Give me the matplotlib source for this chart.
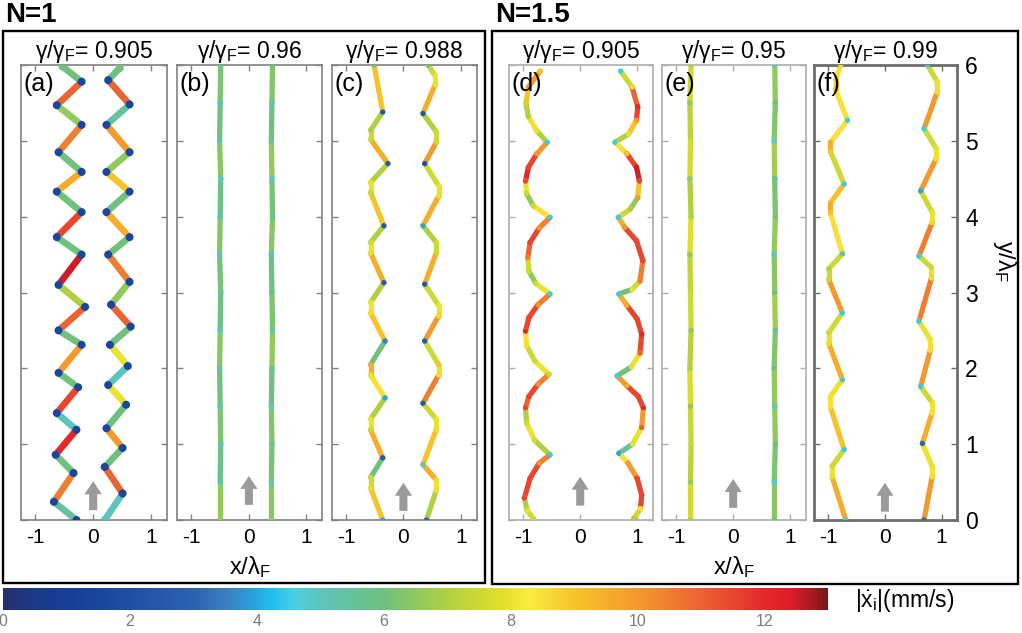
import numpy as np
import matplotlib
matplotlib.use("Agg")
import matplotlib.pyplot as plt
from matplotlib.collections import LineCollection
from matplotlib.colors import LinearSegmentedColormap, Normalize
from matplotlib.patches import Rectangle
import matplotlib.cm as cm

plt.rcParams['font.family'] = ['Liberation Sans', 'DejaVu Sans']
plt.rcParams['mathtext.fontset'] = 'custom'
plt.rcParams['mathtext.rm'] = 'Liberation Sans'
plt.rcParams['mathtext.it'] = 'Liberation Sans:italic'
plt.rcParams['mathtext.bf'] = 'Liberation Sans:bold'

# trajectories: (x/lambda_F, y/lambda_F, speed at that point in mm/s), plus speed of each segment
a_left = [(-0.53, 5.98, 6.0), (-0.20, 5.78, 1.5), (-0.63, 5.47, 1.5), (-0.20, 5.21, 1.5), (-0.60, 4.85, 1.5),
          (-0.20, 4.59, 1.5), (-0.63, 4.33, 1.5), (-0.20, 4.06, 1.5), (-0.63, 3.73, 1.5), (-0.20, 3.50, 1.5),
          (-0.60, 3.10, 1.5), (-0.14, 2.81, 1.5), (-0.60, 2.50, 1.5), (-0.20, 2.31, 1.5), (-0.60, 1.94, 1.5),
          (-0.26, 1.75, 1.5), (-0.63, 1.41, 1.5), (-0.29, 1.19, 1.5), (-0.65, 0.86, 1.5), (-0.34, 0.62, 1.5),
          (-0.68, 0.24, 1.5), (-0.29, 0.00, 1.5)]
a_left_seg = [6.0, 11.0, 6.5, 10.5, 6.0, 9.5, 6.0, 11.5, 6.0, 12.5, 7.0, 11.0, 6.0, 10.0, 6.0, 11.5, 5.0, 12.0, 6.0, 10.5, 5.5]

a_right = [(0.46, 5.96, 6.0), (0.26, 5.80, 1.5), (0.63, 5.48, 1.5), (0.23, 5.21, 1.5), (0.63, 4.85, 1.5),
           (0.23, 4.59, 1.5), (0.63, 4.33, 1.5), (0.23, 4.06, 1.5), (0.63, 3.73, 1.5), (0.26, 3.50, 1.5),
           (0.63, 3.14, 1.5), (0.31, 2.84, 1.5), (0.65, 2.55, 1.5), (0.29, 2.31, 1.5), (0.60, 2.03, 1.5),
           (0.26, 1.78, 1.5), (0.57, 1.52, 1.5), (0.23, 1.21, 1.5), (0.51, 0.95, 1.5), (0.20, 0.70, 1.5),
           (0.51, 0.35, 1.5), (0.20, 0.00, 5.0)]
a_right_seg = [6.0, 11.0, 5.5, 10.0, 6.5, 9.0, 6.0, 9.5, 6.0, 10.5, 6.5, 11.0, 6.0, 8.0, 5.0, 8.0, 6.0, 10.0, 6.0, 11.0, 5.0]

b_left = [(-0.49, 6.0, 5.5), (-0.50, 5.5, 5.0), (-0.51, 5.0, 5.2), (-0.49, 4.5, 4.8), (-0.50, 4.0, 5.3),
          (-0.51, 3.5, 5.0), (-0.49, 3.0, 5.5), (-0.50, 2.5, 4.9), (-0.51, 2.0, 5.2), (-0.50, 1.5, 5.0),
          (-0.49, 1.0, 5.4), (-0.50, 0.5, 5.0), (-0.50, 0.0, 6.5)]
b_left_seg = [6.2, 6.0, 6.4, 5.8, 6.3, 6.1, 5.9, 6.4, 6.0, 6.2, 5.8, 6.5]

b_right = [(0.41, 6.0, 6.0), (0.40, 5.5, 5.0), (0.39, 5.0, 5.5), (0.40, 4.5, 4.8), (0.41, 4.0, 5.5),
           (0.39, 3.5, 5.0), (0.40, 3.0, 6.0), (0.41, 2.5, 5.0), (0.40, 2.0, 5.5), (0.39, 1.5, 4.8),
           (0.40, 1.0, 5.5), (0.39, 0.5, 5.0), (0.39, 0.0, 6.5)]
b_right_seg = [6.3, 6.0, 6.5, 6.1, 6.4, 5.9, 6.2, 6.6, 6.0, 6.3, 6.1, 6.4]

c_left = [(-0.51, 6.00, 6.0), (-0.36, 5.38, 2.5), (-0.57, 5.14, 7.0), (-0.57, 5.02, 7.5), (-0.27, 4.70, 2.5),
          (-0.57, 4.45, 8.0), (-0.57, 4.32, 7.5), (-0.34, 3.88, 2.5), (-0.57, 3.66, 7.5), (-0.57, 3.52, 8.0),
          (-0.34, 3.13, 2.5), (-0.57, 2.87, 8.0), (-0.57, 2.73, 8.5), (-0.32, 2.36, 3.5), (-0.57, 2.05, 9.5),
          (-0.57, 1.91, 8.0), (-0.32, 1.61, 4.0), (-0.57, 1.33, 8.0), (-0.57, 1.19, 7.5), (-0.36, 0.82, 2.5),
          (-0.57, 0.56, 7.5), (-0.57, 0.42, 8.0), (-0.36, 0.00, 4.0)]
c_left_seg = [9.0, 7.0, 7.5, 9.5, 7.0, 8.0, 9.0, 7.0, 8.0, 9.5, 7.0, 8.5, 9.0, 6.0, 9.5, 8.5,
              7.0, 8.0, 9.5, 6.0, 7.5, 9.0]

c_right = [(0.43, 6.00, 6.0), (0.55, 5.86, 8.0), (0.55, 5.74, 8.0), (0.34, 5.36, 2.5), (0.57, 5.12, 7.5),
           (0.57, 4.98, 7.5), (0.37, 4.70, 2.0), (0.61, 4.41, 8.0), (0.61, 4.27, 8.0), (0.34, 3.88, 4.0),
           (0.57, 3.66, 7.5), (0.57, 3.52, 7.5), (0.37, 3.11, 2.5), (0.61, 2.83, 8.0), (0.61, 2.69, 8.0),
           (0.37, 2.36, 2.5), (0.61, 2.05, 9.0), (0.61, 1.91, 8.5), (0.34, 1.54, 2.5), (0.57, 1.33, 8.0),
           (0.57, 1.19, 8.0), (0.34, 0.73, 5.0), (0.57, 0.53, 8.0), (0.57, 0.39, 8.0), (0.40, 0.00, 3.0)]
c_right_seg = [7.5, 8.0, 9.5, 7.0, 7.5, 10.0, 7.5, 8.0, 9.5, 7.0, 7.5, 9.5, 7.5, 8.0, 10.0, 7.5,
               8.0, 10.5, 7.5, 8.0, 9.0, 9.5, 8.5, 7.0]

d_left = [(-0.70, 5.92, 9.0), (-0.91, 5.71, 10.0), (-0.95, 5.49, 7.5), (-0.91, 5.32, 7.0), (-0.76, 5.13, 8.0),
          (-0.58, 4.98, 4.5), (-0.76, 4.83, 10.0), (-0.91, 4.65, 11.5), (-0.96, 4.47, 11.5), (-0.94, 4.30, 7.5),
          (-0.82, 4.14, 7.5), (-0.53, 3.99, 4.5), (-0.72, 3.85, 10.0), (-0.88, 3.66, 11.5), (-0.92, 3.46, 10.5),
          (-0.90, 3.28, 7.5), (-0.78, 3.12, 7.5), (-0.53, 2.98, 4.5), (-0.74, 2.84, 10.0), (-0.90, 2.67, 11.5),
          (-0.96, 2.49, 12.0), (-0.94, 2.30, 8.0), (-0.80, 2.10, 7.5), (-0.55, 1.92, 7.5), (-0.74, 1.79, 10.0),
          (-0.90, 1.63, 11.5), (-0.96, 1.48, 11.5), (-0.94, 1.28, 7.5), (-0.80, 1.05, 7.5), (-0.53, 0.86, 4.5),
          (-0.72, 0.75, 10.0), (-0.88, 0.55, 11.5), (-0.98, 0.29, 11.5), (-0.93, 0.12, 8.0), (-0.82, 0.02, 7.5)]
d_left_seg = [10.0, 9.0, 7.0, 8.5, 7.0,
              10.0, 11.5, 12.0, 8.0, 6.5, 8.5,
              10.5, 11.5, 11.0, 7.5, 6.5, 8.0,
              10.5, 11.5, 11.5, 8.5, 7.5, 8.0,
              10.5, 11.5, 11.0, 7.0, 8.0, 7.0,
              10.5, 11.5, 11.5, 7.0, 7.5]

d_right = [(0.71, 5.92, 4.5), (0.91, 5.71, 8.5), (1.01, 5.45, 12.0), (0.99, 5.27, 10.0), (0.85, 5.09, 8.0),
           (0.61, 4.98, 4.5), (0.82, 4.83, 9.0), (0.99, 4.65, 12.5), (1.04, 4.47, 11.5), (1.01, 4.25, 10.0),
           (0.88, 4.10, 7.0), (0.67, 3.99, 4.5), (0.78, 3.86, 10.0), (0.99, 3.68, 11.5), (1.10, 3.42, 11.5),
           (1.05, 3.15, 10.5), (0.91, 3.04, 8.0), (0.68, 2.98, 4.5), (0.82, 2.83, 9.5), (1.00, 2.65, 11.5),
           (1.08, 2.45, 12.0), (1.05, 2.20, 11.0), (0.90, 2.02, 8.0), (0.65, 1.90, 4.5), (0.82, 1.77, 9.5),
           (1.02, 1.63, 11.5), (1.11, 1.48, 12.0), (1.08, 1.22, 11.0), (0.92, 1.00, 8.0), (0.68, 0.88, 4.0),
           (0.84, 0.75, 10.0), (1.00, 0.55, 11.5), (1.08, 0.33, 11.5), (1.06, 0.15, 8.5), (0.94, 0.02, 7.0)]
d_right_seg = [7.5, 11.0, 11.5, 9.0, 7.0,
               8.5, 11.5, 12.5, 9.0, 6.5, 7.5,
               9.5, 11.5, 11.5, 10.5, 7.5, 6.0,
               9.5, 11.5, 11.5, 11.5, 8.0, 6.0,
               10.0, 11.5, 11.5, 10.0, 8.0, 5.5,
               8.5, 10.0, 11.5, 11.5, 7.5]

e_left = [(-0.74, 6.0, 7.0), (-0.76, 5.5, 6.5), (-0.75, 5.0, 7.5), (-0.76, 4.5, 6.5), (-0.74, 4.0, 7.0),
          (-0.76, 3.5, 6.5), (-0.75, 3.0, 7.5), (-0.74, 2.5, 6.5), (-0.76, 2.0, 7.0), (-0.75, 1.5, 6.5),
          (-0.74, 1.0, 7.5), (-0.75, 0.5, 6.5), (-0.75, 0.0, 7.0)]
e_left_seg = [7.5, 7.2, 7.6, 7.0, 7.8, 7.3, 7.5, 7.1, 7.7, 7.4, 7.2, 7.6]

e_right = [(0.73, 6.0, 5.0), (0.74, 5.5, 6.0), (0.72, 5.0, 4.8), (0.73, 4.5, 5.5), (0.74, 4.0, 6.0),
           (0.72, 3.5, 5.0), (0.73, 3.0, 6.0), (0.74, 2.5, 5.5), (0.72, 2.0, 6.0), (0.73, 1.5, 5.0),
           (0.74, 1.0, 6.0), (0.72, 0.5, 4.8), (0.72, 0.0, 6.0)]
e_right_seg = [6.5, 6.3, 6.8, 6.2, 6.6, 6.4, 6.8, 6.3, 6.6, 6.5, 6.2, 6.4]

f_left = [(-0.78, 6.00, 8.0), (-0.87, 5.80, 8.5), (-0.87, 5.68, 9.0), (-0.66, 5.27, 4.5), (-0.96, 4.98, 9.5),
          (-0.96, 4.86, 9.0), (-0.72, 4.43, 4.5), (-0.96, 4.18, 9.5), (-0.96, 4.05, 9.0), (-0.75, 3.51, 5.5),
          (-0.99, 3.31, 7.0), (-0.99, 3.17, 7.5), (-0.75, 2.73, 4.5), (-0.99, 2.47, 7.5), (-0.99, 2.33, 8.0),
          (-0.75, 1.85, 5.0), (-0.96, 1.63, 8.5), (-0.96, 1.49, 8.5), (-0.72, 0.93, 4.5), (-0.93, 0.71, 7.5),
          (-0.93, 0.57, 8.0), (-0.69, 0.00, 4.5)]
f_left_seg = [8.5, 9.0, 8.5, 8.5, 9.5, 7.5, 9.0, 9.5, 8.5, 7.5, 7.5, 10.0, 7.5, 8.0, 9.5, 8.0,
              8.5, 9.0, 7.5, 8.0, 9.5]

f_right = [(0.75, 6.00, 4.5), (0.92, 5.78, 8.0), (0.92, 5.64, 8.0), (0.69, 5.16, 4.5), (0.90, 4.90, 8.0),
           (0.90, 4.76, 8.0), (0.63, 4.34, 4.0), (0.83, 4.06, 8.0), (0.83, 3.92, 8.0), (0.60, 3.48, 4.5),
           (0.82, 3.33, 7.5), (0.82, 3.19, 8.0), (0.60, 2.62, 4.5), (0.80, 2.38, 8.0), (0.80, 2.24, 8.5),
           (0.63, 1.76, 4.5), (0.83, 1.55, 8.0), (0.83, 1.41, 8.5), (0.66, 1.01, 3.0), (0.83, 0.71, 8.0),
           (0.83, 0.57, 8.5), (0.69, 0.00, 3.0)]
f_right_seg = [7.5, 8.0, 10.0, 7.5, 8.0, 10.0, 7.5, 8.0, 10.5, 7.5, 8.0, 10.5, 8.0, 8.5, 10.0, 7.5,
               8.5, 9.5, 8.0, 8.5, 10.0]

panel_names = ['(a)', '(b)', '(c)', '(d)', '(e)', '(f)']
gamma_ratio = ['0.905', '0.96', '0.988', '0.905', '0.95', '0.99']
tracks = [(a_left, a_left_seg, a_right, a_right_seg),
          (b_left, b_left_seg, b_right, b_right_seg),
          (c_left, c_left_seg, c_right, c_right_seg),
          (d_left, d_left_seg, d_right, d_right_seg),
          (e_left, e_left_seg, e_right, e_right_seg),
          (f_left, f_left_seg, f_right, f_right_seg)]
cbar_ticks = [0, 2, 4, 6, 8, 10, 12]

# colour scale, roughly the one in the figure
cb_pos = [0, 0.5, 1, 2, 3, 3.5, 3.9, 4.25, 4.6, 5, 6, 7, 7.9, 8.3, 9, 10, 11, 12, 12.4, 12.8, 13]
cb_hex = ['#2a2e6e', '#1b3989', '#163e98', '#1f4fa3', '#2c62b0', '#3a7fc2', '#2aa0da', '#1fc2ee', '#4ccfe0',
          '#5cc4bc', '#6ec17e', '#b0d040', '#e4e02a', '#f8ec40', '#f6c42a', '#f39a2e', '#ec6432', '#e42a2a',
          '#e01e28', '#a31a20', '#7a1418']
cmap = LinearSegmentedColormap.from_list('speed', list(zip(np.array(cb_pos) / 13.0, cb_hex)))
norm = Normalize(0, 13)

W, H = 1022, 633
fig = plt.figure(figsize=(W / 100, H / 100), dpi=100)

# panel boxes in pixels: left, width
px_left = [21, 177, 331.5, 509, 662, 814]
px_width = [145.5, 145, 145, 143.5, 143.5, 143]
spine_col = ['#808080', '#808080', '#808080', '#adadad', '#adadad', '#6e6e6e']
spine_w = [1.2, 1.2, 1.2, 1.2, 1.2, 2.0]
arrow_y = [(0.13, 0.51), (0.20, 0.58), (0.12, 0.49), (0.19, 0.57), (0.16, 0.54), (0.11, 0.49)]


def draw_track(ax, pts, seg_v, lw, ms):
    xy = np.array([(p[0], p[1]) for p in pts])
    v = np.array([p[2] for p in pts])
    segs = np.stack([xy[:-1], xy[1:]], axis=1)
    lc = LineCollection(segs, cmap=cmap, norm=norm, linewidths=lw, capstyle='round', zorder=2)
    lc.set_array(np.array(seg_v))
    ax.add_collection(lc)
    ax.scatter(xy[:, 0], xy[:, 1], c=v, cmap=cmap, norm=norm, s=ms, linewidths=0, zorder=3)


for i in range(6):
    ax = fig.add_axes([px_left[i] / W, 1 - 520 / H, px_width[i] / W, 455 / H])
    left, lseg, right, rseg = tracks[i]
    lw = 4.8 if i == 0 else 3.8
    ms = (lw * 1.2) ** 2 if i == 0 else lw ** 2
    draw_track(ax, left, lseg, lw, ms)
    draw_track(ax, right, rseg, lw, ms)
    y0, y1 = arrow_y[i]
    ax.arrow(0, y0, 0, y1 - y0, width=0.14, head_width=0.30, head_length=0.17,
             length_includes_head=True, color='#9a9a9a', lw=0, zorder=1)
    ax.set_xlim(-1.25, 1.27)
    ax.set_ylim(0, 6)
    ax.set_xticks([-1, 0, 1])
    ax.set_xticklabels(['-1', '0', '1'])
    ax.set_yticks(range(7))
    for s in ax.spines.values():
        s.set_color(spine_col[i])
        s.set_linewidth(spine_w[i])
    ax.tick_params(direction='in', length=4, width=1, color=spine_col[i], top=True, right=True,
                   labelsize=15, pad=6)
    ax.tick_params(axis='y', labelleft=False, labelright=(i == 5), labelsize=16.5, pad=6)
    ax.set_title('γ/γ$_\\mathregular{F}$= ' + gamma_ratio[i], fontsize=16.5, pad=5)
    ax.text(0.02, 0.985, panel_names[i], transform=ax.transAxes, ha='left', va='top', fontsize=18)
    if i in (1, 4):
        ax.set_xlabel('x/λ$_\\mathregular{F}$', fontsize=17, labelpad=5)
    if i == 5:
        ax.text(1.33, 0.57, 'y/λ$_\\mathregular{F}$', transform=ax.transAxes, rotation=270,
                ha='center', va='center', fontsize=17)

# outer frames and group titles
fig.add_artist(Rectangle((3 / W, 1 - 583 / H), 482 / W, 552 / H, transform=fig.transFigure,
                         fill=False, ec='black', lw=1.7))
fig.add_artist(Rectangle((492 / W, 1 - 584 / H), 526 / W, 553 / H, transform=fig.transFigure,
                         fill=False, ec='black', lw=1.7))
fig.text(5 / W, 1 - 15 / H, 'N=1', fontsize=20, fontweight='bold', ha='left', va='center')
fig.text(495 / W, 1 - 15 / H, 'N=1.5', fontsize=20, fontweight='bold', ha='left', va='center')

# colour bar
cax = fig.add_axes([3 / W, 1 - 610 / H, 825 / W, 22 / H])
cb = fig.colorbar(cm.ScalarMappable(norm=norm, cmap=cmap), cax=cax, orientation='horizontal')
cb.outline.set_visible(False)
cb.set_ticks(cbar_ticks)
cax.tick_params(length=0, labelsize=11.5, labelcolor='#7a7a7a', pad=3)
fig.text(855 / W, 1 - 600 / H, r'$|\dot{\mathrm{x}}_\mathrm{i}|$(mm/s)', fontsize=16.5, ha='left', va='center')

fig.savefig('out.png', dpi=100)
